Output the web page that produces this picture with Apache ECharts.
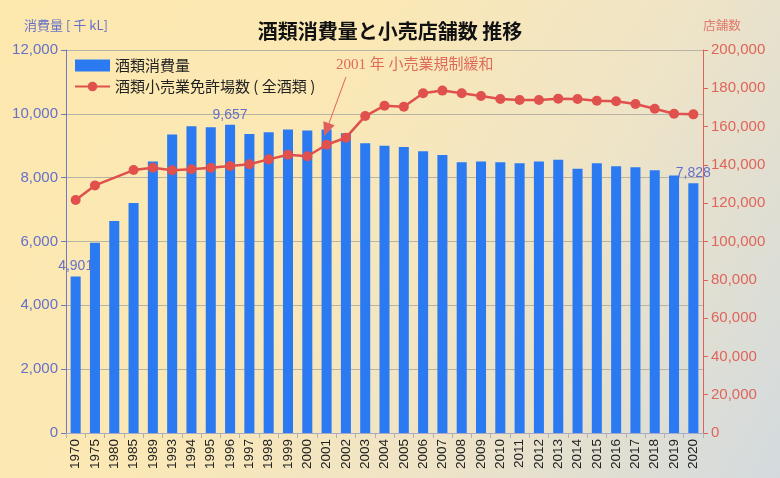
<!DOCTYPE html>
<html><head><meta charset="utf-8">
<script src="https://cdn.jsdelivr.net/npm/echarts@6/dist/echarts.min.js"></script>
<style>
html,body{margin:0;padding:0;}
#c{width:780px;height:478px;background:linear-gradient(120deg,#fde8ae 0%,#fbe8b4 35%,#efe4c6 65%,#d3dade 100%);}
</style></head>
<body><div id="c"></div>
<script>
const years = ['1970','1975','1980','1985','1989','1993','1994','1995','1996','1997','1998','1999','2000','2001','2002','2003','2004','2005','2006','2007','2008','2009','2010','2011','2012','2013','2014','2015','2016','2017','2018','2019','2020'];
const consumption = [4901,5960,6640,7210,8510,9350,9610,9580,9657,9370,9420,9510,9480,9510,9390,9080,9000,8960,8830,8710,8480,8510,8480,8450,8510,8560,8280,8450,8360,8330,8230,8070,7828];
const stores = [121700,129300,null,137300,138500,137200,137700,138500,139400,140300,142900,145300,144500,150500,154200,165500,170900,170400,177400,178800,177400,176000,174400,173900,173900,174600,174400,173500,173200,171800,169300,166700,166400];
const labeledYears = ['1970','1996','2020'];
const leftTicks = {min:0,max:12000,interval:2000};
const rightTicks = {min:0,max:200000,interval:20000};
const annotationText = '2001 年 小売業規制緩和';
const arrowFrom = ['2002', 11150];
const arrowTo = ['2001', 9500];

const blueTxt = '#6670c8';
const redTxt = '#e0645a';
const chart = echarts.init(document.getElementById('c'));
chart.setOption({
  backgroundColor:'transparent',
  animation:false,
  title:{text:'酒類消費量と小売店舗数 推移',left:'center',top:16,textStyle:{fontSize:20,fontWeight:'bold',color:'#111',fontFamily:'Noto Sans CJK JP'}},
  legend:{orient:'vertical',left:69,top:53,itemWidth:35,itemHeight:12,itemGap:6,
    textStyle:{fontSize:15,color:'#222',fontFamily:'Noto Sans CJK JP'},
    data:[{name:'酒類消費量',icon:'rect'},{name:'酒類小売業免許場数 ( 全酒類 )'}]},
  grid:{left:66,right:77,top:50,bottom:45},
  xAxis:{type:'category',data:years,boundaryGap:true,
    axisLine:{lineStyle:{color:'#a8a8c8'}},
    axisTick:{show:true,length:5,lineStyle:{color:'#b0b0b0'}},
    axisLabel:{rotate:90,fontSize:13.5,color:'#222',margin:6,fontFamily:'Liberation Sans'}},
  yAxis:[
    {type:'value',min:leftTicks.min,max:leftTicks.max,interval:leftTicks.interval,
     name:'消費量 [ 千 kL]',nameLocation:'end',nameGap:18,
     nameTextStyle:{color:blueTxt,fontSize:13,align:'center',padding:[0,0,0,0],fontFamily:'Noto Sans CJK JP'},
     axisLine:{show:true,lineStyle:{color:'#7078c8'}},
     axisTick:{show:true,length:5,lineStyle:{color:'#7078c8'}},
     axisLabel:{color:blueTxt,fontSize:15,margin:8,fontFamily:'Liberation Sans'},
     splitLine:{show:true,lineStyle:{color:'#b8b4a4'}}},
    {type:'value',min:rightTicks.min,max:rightTicks.max,interval:rightTicks.interval,
     name:'店舗数',nameLocation:'end',nameGap:18,
     nameTextStyle:{color:'#e07a6e',fontSize:12.5,align:'center',padding:[0,0,0,38],fontFamily:'Noto Sans CJK JP'},
     axisLine:{show:true,lineStyle:{color:'#e0605a'}},
     axisTick:{show:true,length:5,lineStyle:{color:'#e0605a'}},
     axisLabel:{color:redTxt,fontSize:15,margin:8,fontFamily:'Liberation Sans'},
     splitLine:{show:false}}
  ],
  graphic:[{type:'text',left:336,top:58,style:{text:annotationText,fill:'#e06a5a',fontSize:15,fontFamily:'Liberation Serif, Noto Sans CJK JP'}}],
  series:[
    {name:'酒類消費量',type:'bar',yAxisIndex:0,barWidth:'52%',
     itemStyle:{color:'#2b7af2'},
     data:consumption.map((v,i)=>labeledYears.includes(years[i])?{value:v,label:{show:true,position:'top',color:blueTxt,fontSize:14,distance:3,formatter:p=>p.value.toLocaleString('en-US'),fontFamily:'Liberation Sans'}}:v),
     markLine:{silent:true,symbol:['none','triangle'],symbolSize:[12,14],
       lineStyle:{color:'#e0605a',width:1,type:'solid'},label:{show:false},
       data:[[{coord:arrowFrom},{coord:arrowTo}]]}},
    {name:'酒類小売業免許場数 ( 全酒類 )',type:'line',yAxisIndex:1,connectNulls:true,
     symbol:'circle',symbolSize:10,
     itemStyle:{color:'#e0504c'},lineStyle:{color:'#e0504c',width:2.5},
     data:stores}
  ]
});
</script></body></html>
